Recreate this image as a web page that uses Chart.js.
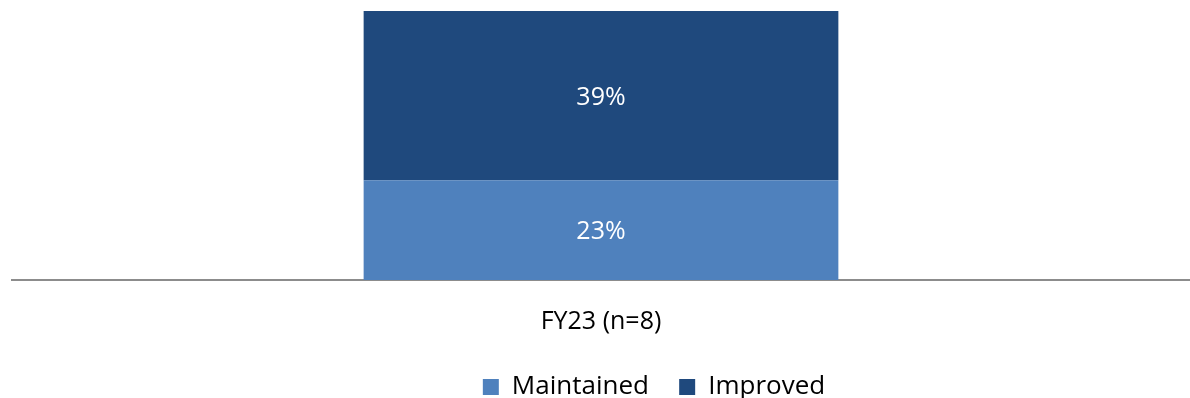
<!DOCTYPE html>
<html>
<head>
<meta charset="utf-8">
<script src="https://cdn.jsdelivr.net/npm/chart.js@4/dist/chart.umd.min.js"></script>
<style>
  html, body { margin: 0; padding: 0; background: #fff; }
  #wrap { width: 1190px; height: 398px; }
</style>
</head>
<body>
<div id="wrap"><canvas id="barChart"></canvas></div>
<script>
const categories = ['FY23 (n=8)'];
const maintained = [23];
const improved = [39];
const seriesNames = ['Maintained', 'Improved'];

// White percentage in the middle of every segment
const segmentLabels = {
  id: 'segmentLabels',
  afterDatasetsDraw(chart) {
    const ctx = chart.ctx;
    ctx.save();
    ctx.font = '25px "Open Sans"';
    ctx.fillStyle = '#ffffff';
    ctx.textAlign = 'center';
    ctx.textBaseline = 'middle';
    chart.data.datasets.forEach((ds, i) => {
      chart.getDatasetMeta(i).data.forEach((bar, j) => {
        const mid = (bar.y + bar.base) / 2 + 2;
        ctx.fillText(ds.data[j] + '%', bar.x, mid);
      });
    });
    ctx.restore();
  }
};

// legend sits a bit right of centre
const legendOffset = {
  id: 'legendOffset',
  afterLayout(chart) {
    if (chart.legend) chart.legend.left += 102;
  }
};

const ctx = document.getElementById('barChart').getContext('2d');
new Chart(ctx, {
  type: 'bar',
  data: {
    labels: categories,
    datasets: [
      {
        label: seriesNames[0],
        data: maintained,
        backgroundColor: '#4f81bd',
        barPercentage: 0.403,
        categoryPercentage: 1
      },
      {
        label: seriesNames[1],
        data: improved,
        backgroundColor: '#1f497d',
        barPercentage: 0.403,
        categoryPercentage: 1
      }
    ]
  },
  options: {
    responsive: true,
    maintainAspectRatio: false,
    animation: false,
    layout: { padding: { top: 11, left: 12, right: -4, bottom: -12 } },
    scales: {
      x: {
        stacked: true,
        grid: { display: false, drawTicks: false },
        border: { display: true, color: '#8c8c8c', width: 2 },
        ticks: {
          padding: 27,
          color: '#000000',
          font: { family: '"Open Sans"', size: 25 }
        }
      },
      y: {
        stacked: true,
        display: false,
        min: 0,
        max: 62
      }
    },
    plugins: {
      tooltip: { enabled: false },
      legend: {
        position: 'bottom',
        labels: {
          boxWidth: 16,
          boxHeight: 16,
          padding: 10,
          color: '#000000',
          font: { family: '"Open Sans"', size: 26 },
          // a little extra room between the two legend entries
          generateLabels(chart) {
            const items = Chart.defaults.plugins.legend.labels.generateLabels(chart);
            items.forEach((item, i) => {
              if (i < items.length - 1) item.text += '   ';
            });
            return items;
          }
        }
      }
    }
  },
  plugins: [segmentLabels, legendOffset]
});
</script>
</body>
</html>
